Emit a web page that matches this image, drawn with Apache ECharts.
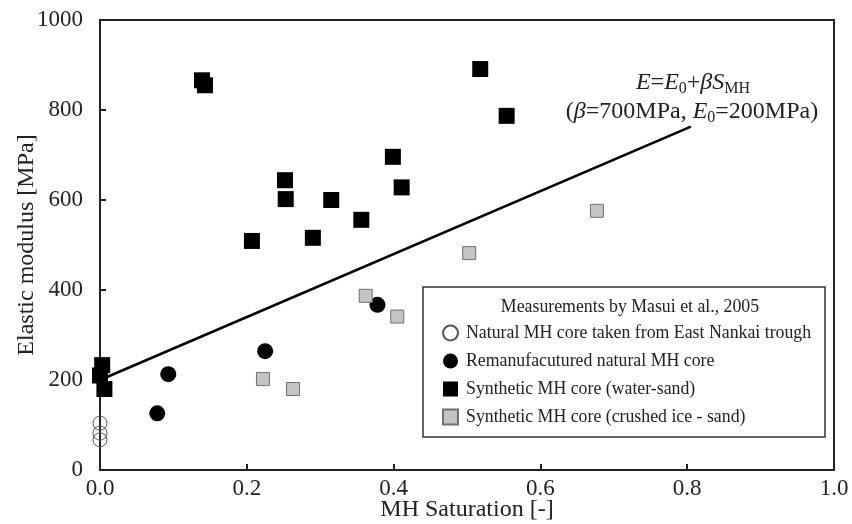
<!DOCTYPE html>
<html>
<head>
<meta charset="utf-8">
<script src="https://cdn.jsdelivr.net/npm/echarts@6/dist/echarts.min.js"></script>
<style>html,body{margin:0;padding:0;background:#fff}#c{width:852px;height:524px}</style>
</head>
<body>
<div id="c"></div>
<script>
// Data
const naturalX = [0, 0, 0];
const naturalY = [104, 82, 67];
const remanX = [0.078, 0.093, 0.225, 0.378];
const remanY = [126, 213, 264, 367];
const waterX = [0, 0.003, 0.006, 0.139, 0.143, 0.207, 0.252, 0.253, 0.29, 0.315, 0.356, 0.399, 0.411, 0.518, 0.554];
const waterY = [210, 233, 180, 866, 855, 509, 644, 602, 516, 600, 556, 696, 628, 891, 787];
const iceX = [0.222, 0.263, 0.362, 0.405, 0.503, 0.677];
const iceY = [202, 180, 387, 341, 482, 576];
const fitX = [0, 0.805];
const fitY = [200, 763];
const seriesNames = [
  'Natural MH core taken from East Nankai trough',
  'Remanufacutured natural MH core',
  'Synthetic MH core (water-sand)',
  'Synthetic MH core (crushed ice - sand)'
];
const legendTitle = 'Measurements by Masui et al., 2005';
const xName = 'MH Saturation [-]';
const yName = 'Elastic modulus [MPa]';

const zip = (xs, ys) => xs.map((x, i) => [x, ys[i]]);
const SERIF = '"Liberation Serif", "DejaVu Serif", serif';

const chart = echarts.init(document.getElementById('c'), null, {renderer: 'canvas'});
chart.setOption({
  animation: false,
  backgroundColor: '#fff',
  grid: {left: 100, top: 20, right: 18, bottom: 54, outerBoundsMode: 'none', containLabel: false,
         show: true, borderColor: '#222', borderWidth: 2, backgroundColor: 'transparent'},
  xAxis: {
    type: 'value', min: 0, max: 1, interval: 0.2,
    name: xName, nameLocation: 'middle', nameGap: 28, nameMoveOverlap: false,
    nameTextStyle: {fontFamily: SERIF, fontSize: 24, color: '#222'},
    axisLine: {lineStyle: {color: '#222', width: 2}},
    axisTick: {inside: true, length: 6, lineStyle: {color: '#222', width: 2}},
    axisLabel: {fontFamily: SERIF, fontSize: 23, color: '#222', margin: 7, formatter: v => v.toFixed(1)},
    splitLine: {show: false}
  },
  yAxis: {
    type: 'value', min: 0, max: 1000, interval: 200,
    name: yName, nameLocation: 'middle', nameGap: 61, nameMoveOverlap: false,
    nameTextStyle: {fontFamily: SERIF, fontSize: 24, color: '#222'},
    axisLine: {lineStyle: {color: '#222', width: 2}},
    axisTick: {inside: true, length: 6, lineStyle: {color: '#222', width: 2}},
    axisLabel: {fontFamily: SERIF, fontSize: 23, color: '#222', margin: 17, formatter: v => String(v)},
    splitLine: {show: false}
  },
  legend: {
    orient: 'vertical', left: 437, top: 319, itemGap: 10,
    itemWidth: 15, itemHeight: 15,
    textStyle: {fontFamily: SERIF, fontSize: 17.8, color: '#222', padding: [0, 0, 0, 3]},
    data: seriesNames, z: 10
  },
  graphic: [
    {type: 'rect', z: 5, shape: {x: 423, y: 287, width: 402, height: 150},
     style: {fill: '#fff', stroke: '#333', lineWidth: 1.5}},
    {type: 'text', z: 6, x: 630, y: 307,
     style: {text: legendTitle, fontFamily: SERIF, fontSize: 17.8, fill: '#222', align: 'center', verticalAlign: 'middle'}},
    {type: 'text', z: 6, x: 693, y: 83,
     style: {
       text: '{i|E}{n|=}{i|E}{s|0}{n|+}{i|βS}{s|MH}',
       align: 'center', verticalAlign: 'middle',
       rich: {
         i: {fontFamily: SERIF, fontSize: 24, fontStyle: 'italic', fill: '#222', lineHeight: 27},
         n: {fontFamily: SERIF, fontSize: 24, fill: '#222', lineHeight: 27},
         s: {fontFamily: SERIF, fontSize: 16, fill: '#222', lineHeight: 16, verticalAlign: 'bottom'}
       }
     }},
    {type: 'text', z: 6, x: 692, y: 112,
     style: {
       text: '{n|(}{i|β}{n|=700MPa, }{i|E}{s|0}{n|=200MPa)}',
       align: 'center', verticalAlign: 'middle',
       rich: {
         i: {fontFamily: SERIF, fontSize: 24, fontStyle: 'italic', fill: '#222', lineHeight: 27},
         n: {fontFamily: SERIF, fontSize: 24, fill: '#222', lineHeight: 27},
         s: {fontFamily: SERIF, fontSize: 16, fill: '#222', lineHeight: 16, verticalAlign: 'bottom'}
       }
     }}
  ],
  series: [
    {type: 'line', data: zip(fitX, fitY), symbol: 'none', z: 1,
     lineStyle: {color: '#000', width: 2.6}, silent: true},
    {name: seriesNames[0], type: 'scatter', data: zip(naturalX, naturalY), symbol: 'circle', symbolSize: 14, z: 3,
     itemStyle: {color: 'rgba(255,255,255,0)', borderColor: '#555', borderWidth: 1, opacity: 1}},
    {name: seriesNames[1], type: 'scatter', data: zip(remanX, remanY), symbol: 'circle', symbolSize: 16, z: 3,
     itemStyle: {color: '#000', opacity: 1}},
    {name: seriesNames[2], type: 'scatter', data: zip(waterX, waterY), symbol: 'rect', symbolSize: 16, z: 3,
     itemStyle: {color: '#000', opacity: 1}},
    {name: seriesNames[3], type: 'scatter', data: zip(iceX, iceY), symbol: 'rect', symbolSize: 13, z: 3,
     itemStyle: {color: '#c4c4c4', borderColor: '#707070', borderWidth: 1, opacity: 1}}
  ]
});
</script>
</body>
</html>
